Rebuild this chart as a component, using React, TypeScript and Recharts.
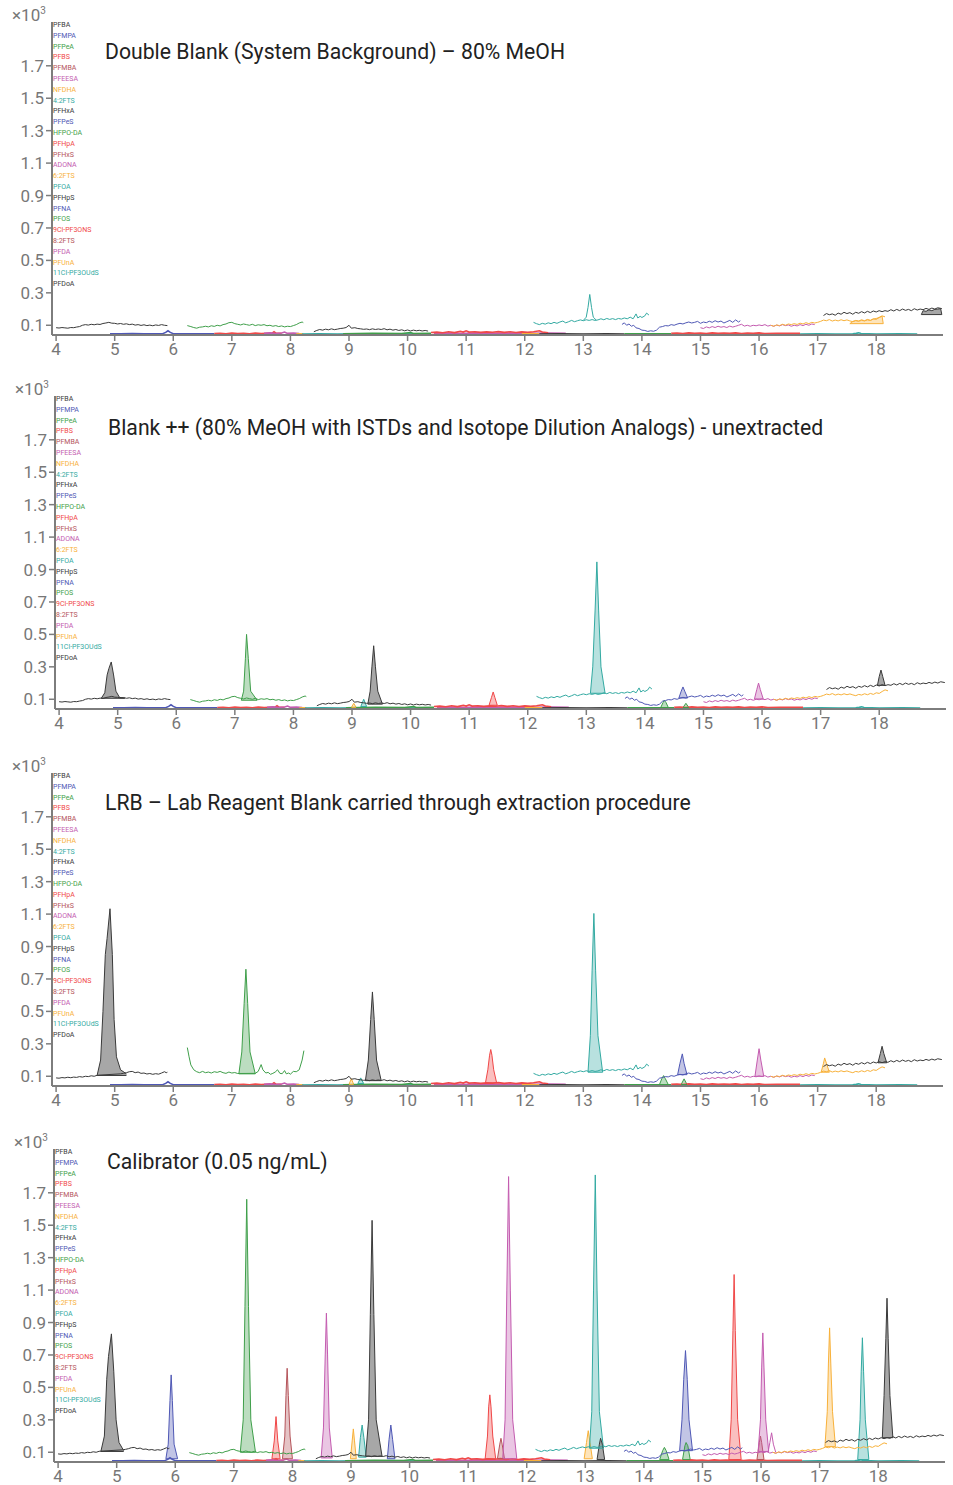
import React from "react";
import { Area, ComposedChart, Line, XAxis, YAxis } from "recharts";

type Pt = [number, number];

const compounds = [
  "PFBA", "PFMPA", "PFPeA", "PFBS", "PFMBA", "PFEESA", "NFDHA", "4:2FTS",
  "PFHxA", "PFPeS", "HFPO-DA", "PFHpA", "PFHxS", "ADONA", "6:2FTS", "PFOA",
  "PFHpS", "PFNA", "PFOS", "9Cl-PF3ONS", "8:2FTS", "PFDA", "PFUnA", "11Cl-PF3OUdS", "PFDoA",
];
const colorCycle = ["k", "b", "g", "r", "br", "m", "o", "t"];
const COLORS: Record<string, string> = {
  k: "#3a3a3a", b: "#4f58b5", g: "#3f9f4a", r: "#f04848",
  br: "#b5545a", m: "#c45cb0", o: "#f8b13a", t: "#33aaa2",
};

const xTicks = [4, 5, 6, 7, 8, 9, 10, 11, 12, 13, 14, 15, 16, 17, 18];
const yTicks = [0.1, 0.3, 0.5, 0.7, 0.9, 1.1, 1.3, 1.5, 1.7];
const titles = [
  "Double Blank (System Background) – 80% MeOH",
  "Blank ++ (80% MeOH with ISTDs and Isotope Dilution Analogs) - unextracted",
  "LRB – Lab Reagent Blank carried through extraction procedure",
  "Calibrator (0.05 ng/mL)",
];

// ---- baseline traces (time min, intensity x10^3) ----
const blackEarly: Pt[] = [[4.0,0.085],[4.05,0.083],[4.1,0.086],[4.15,0.084],[4.2,0.082],[4.25,0.086],[4.3,0.085],[4.35,0.089],[4.4,0.092],[4.45,0.1],[4.5,0.104],[4.55,0.101],[4.6,0.106],[4.65,0.103],[4.7,0.107],[4.75,0.105],[4.8,0.111],[4.85,0.114],[4.9,0.118],[4.95,0.113],[5.0,0.112],[5.05,0.108],[5.1,0.111],[5.15,0.106],[5.2,0.109],[5.25,0.104],[5.3,0.107],[5.35,0.101],[5.4,0.104],[5.45,0.099],[5.5,0.103],[5.55,0.098],[5.6,0.101],[5.65,0.097],[5.7,0.102],[5.75,0.099],[5.8,0.104],[5.85,0.1],[5.9,0.098]];
const blackEarlyB: Pt[] = [[4.0,0.09],[4.05,0.088],[4.1,0.092],[4.15,0.09],[4.2,0.094],[4.25,0.091],[4.3,0.095],[4.35,0.093],[4.4,0.098],[4.45,0.095],[4.5,0.1],[4.55,0.098],[4.6,0.103],[4.65,0.1],[4.7,0.106],[5.1,0.115],[5.15,0.118],[5.2,0.122],[5.25,0.128],[5.3,0.13],[5.35,0.122],[5.4,0.126],[5.45,0.118],[5.5,0.12],[5.55,0.114],[5.6,0.117],[5.65,0.112],[5.7,0.116],[5.75,0.113],[5.8,0.12],[5.85,0.128],[5.88,0.122],[5.9,0.125]];
const greenA: Pt[] = [[6.24,0.098],[6.3,0.092],[6.35,0.086],[6.4,0.082],[6.45,0.088],[6.5,0.09],[6.55,0.094],[6.6,0.09],[6.65,0.097],[6.7,0.093],[6.75,0.1],[6.8,0.096],[6.85,0.104],[6.9,0.108],[6.95,0.116],[7.0,0.118],[7.05,0.11],[7.1,0.106],[7.15,0.102],[7.2,0.108],[7.25,0.104],[7.3,0.1],[7.35,0.106],[7.4,0.098],[7.45,0.103],[7.5,0.1],[7.55,0.104],[7.6,0.097],[7.65,0.1],[7.7,0.094],[7.75,0.098],[7.8,0.092],[7.85,0.096],[7.9,0.09],[7.95,0.094],[8.0,0.092],[8.05,0.098],[8.1,0.104],[8.15,0.114],[8.2,0.12],[8.22,0.116]];
const greenB: Pt[] = [[6.24,0.277],[6.27,0.22],[6.3,0.17],[6.35,0.14],[6.4,0.128],[6.45,0.122],[6.5,0.13],[6.55,0.122],[6.6,0.126],[6.65,0.12],[6.7,0.128],[6.75,0.124],[6.8,0.13],[6.85,0.122],[6.9,0.118],[6.95,0.126],[7.0,0.12],[7.05,0.123],[7.1,0.117],[7.4,0.118],[7.45,0.13],[7.5,0.172],[7.53,0.14],[7.58,0.12],[7.62,0.124],[7.66,0.112],[7.7,0.118],[7.74,0.126],[7.78,0.14],[7.82,0.118],[7.86,0.116],[7.9,0.135],[7.93,0.115],[7.97,0.12],[8.0,0.113],[8.05,0.13],[8.1,0.128],[8.15,0.14],[8.2,0.2],[8.23,0.258]];
const blackMid: Pt[] = [[8.4,0.06],[8.45,0.068],[8.5,0.074],[8.55,0.07],[8.6,0.076],[8.65,0.072],[8.7,0.078],[8.75,0.073],[8.8,0.076],[8.85,0.08],[8.9,0.082],[8.95,0.086],[9.0,0.1],[9.04,0.082],[9.1,0.085],[9.15,0.08],[9.2,0.078],[9.25,0.075],[9.3,0.077],[9.35,0.073],[9.4,0.078],[9.45,0.074],[9.5,0.077],[9.55,0.074],[9.6,0.079],[9.65,0.072],[9.7,0.076],[9.75,0.07],[9.8,0.074],[9.85,0.068],[9.9,0.072],[9.95,0.066],[10.0,0.071],[10.05,0.065],[10.1,0.07],[10.15,0.066],[10.2,0.069],[10.25,0.065],[10.3,0.068],[10.35,0.064]];
const tealMid: Pt[] = [[12.15,0.118],[12.2,0.11],[12.25,0.104],[12.3,0.112],[12.35,0.107],[12.4,0.115],[12.45,0.11],[12.5,0.118],[12.55,0.112],[12.6,0.12],[12.65,0.126],[12.7,0.115],[12.75,0.122],[12.8,0.13],[12.85,0.122],[12.9,0.128],[12.95,0.133],[13.0,0.128],[13.05,0.134],[13.1,0.13],[13.15,0.135],[13.2,0.13],[13.25,0.133],[13.3,0.14],[13.35,0.134],[13.4,0.142],[13.45,0.136],[13.5,0.141],[13.55,0.135],[13.6,0.142],[13.65,0.138],[13.7,0.145],[13.75,0.14],[13.8,0.15],[13.85,0.14],[13.9,0.17],[13.93,0.145],[13.97,0.155],[14.0,0.148],[14.05,0.158],[14.08,0.175],[14.12,0.163]];
const blueMid: Pt[] = [[13.66,0.105],[13.7,0.115],[13.74,0.1],[13.78,0.108],[13.82,0.094],[13.86,0.1],[13.9,0.084],[13.95,0.08],[14.0,0.07],[14.05,0.068],[14.1,0.062],[14.15,0.066],[14.2,0.063],[14.25,0.07],[14.3,0.088],[14.35,0.092],[14.4,0.098],[14.45,0.096],[14.5,0.104],[14.55,0.1],[14.6,0.107],[14.65,0.112],[14.7,0.108],[14.75,0.115],[14.8,0.12],[14.85,0.114],[14.9,0.118],[14.95,0.124],[15.0,0.112],[15.05,0.12],[15.1,0.116],[15.15,0.125],[15.2,0.118],[15.25,0.128],[15.3,0.12],[15.35,0.126],[15.4,0.114],[15.45,0.122],[15.5,0.13],[15.55,0.118],[15.6,0.133],[15.65,0.12],[15.68,0.128]];
const magentaMid: Pt[] = [[15.0,0.085],[15.05,0.08],[15.1,0.09],[15.15,0.084],[15.2,0.092],[15.25,0.086],[15.3,0.094],[15.35,0.088],[15.4,0.092],[15.45,0.086],[15.5,0.095],[15.55,0.089],[15.6,0.094],[15.65,0.1],[15.7,0.106],[15.75,0.095],[15.8,0.1],[15.85,0.094],[15.9,0.1],[15.95,0.097],[16.0,0.102],[16.05,0.098],[16.1,0.104],[16.15,0.095],[16.2,0.1],[16.25,0.094],[16.3,0.101],[16.35,0.096],[16.4,0.104],[16.45,0.098],[16.5,0.102],[16.55,0.094],[16.6,0.1],[16.65,0.096],[16.7,0.104],[16.75,0.098],[16.8,0.106],[16.85,0.1],[16.9,0.108],[16.95,0.104]];
const orangeLate: Pt[] = [[16.2,0.1],[16.25,0.094],[16.3,0.102],[16.35,0.098],[16.4,0.106],[16.45,0.1],[16.5,0.108],[16.55,0.104],[16.6,0.11],[16.65,0.105],[16.7,0.113],[16.75,0.108],[16.8,0.116],[16.85,0.11],[16.9,0.118],[16.95,0.114],[17.0,0.118],[17.05,0.124],[17.1,0.132],[17.15,0.128],[17.2,0.135],[17.25,0.126],[17.3,0.132],[17.35,0.127],[17.4,0.134],[17.45,0.128],[17.5,0.133],[17.55,0.127],[17.6,0.122],[17.65,0.13],[17.7,0.126],[17.75,0.134],[17.8,0.128],[17.85,0.136],[17.9,0.13],[17.95,0.14],[18.0,0.136],[18.05,0.148],[18.1,0.158],[18.15,0.152]];
const blackLate: Pt[] = [[17.1,0.16],[17.15,0.172],[17.2,0.165],[17.25,0.17],[17.3,0.162],[17.35,0.175],[17.4,0.168],[17.45,0.18],[17.5,0.172],[17.55,0.178],[17.6,0.168],[17.65,0.18],[17.7,0.174],[17.75,0.184],[17.8,0.176],[17.85,0.186],[17.9,0.178],[17.95,0.188],[18.0,0.182],[18.05,0.19],[18.1,0.184],[18.15,0.19],[18.2,0.186],[18.25,0.196],[18.3,0.188],[18.35,0.198],[18.4,0.19],[18.45,0.2],[18.5,0.192],[18.55,0.198],[18.6,0.19],[18.65,0.202],[18.7,0.194],[18.75,0.2],[18.8,0.196],[18.85,0.204],[18.9,0.198],[18.95,0.206],[19.0,0.2],[19.05,0.208],[19.12,0.203]];

// ---- traces lying on the floor of the plot ----
const bottomBlue: Pt[] = [[4.92,0.048],[5.1,0.047],[5.3,0.049],[5.5,0.047],[5.7,0.048],[5.82,0.048],[5.87,0.056],[5.91,0.066],[5.95,0.056],[6.0,0.048],[6.2,0.047],[6.4,0.048],[6.7,0.047]];
const bottomRed1: Pt[] = [[6.7,0.049],[6.8,0.051],[6.9,0.048],[7.0,0.052],[7.1,0.049],[7.2,0.051],[7.3,0.048],[7.4,0.052],[7.5,0.049],[7.6,0.05],[7.68,0.05],[7.72,0.06],[7.76,0.05],[7.85,0.05]];
const bottomMag1: Pt[] = [[7.55,0.05],[7.65,0.053],[7.75,0.049],[7.85,0.052],[7.9,0.058],[7.95,0.05],[8.05,0.052],[8.15,0.049]];
const bottomOrange1: Pt[] = [[8.1,0.047],[8.22,0.047]];
const bottomTeal1: Pt[] = [[8.2,0.046],[8.5,0.047],[8.8,0.046],[9.1,0.047],[9.6,0.046],[9.9,0.047],[10.2,0.046],[10.4,0.047]];
const bottomGreen1: Pt[] = [[8.9,0.048],[9.4,0.05],[9.9,0.049],[10.05,0.055],[10.1,0.049],[10.4,0.05]];
const bottomRed2: Pt[] = [[10.4,0.055],[10.5,0.058],[10.6,0.054],[10.7,0.06],[10.8,0.055],[10.9,0.062],[10.95,0.058],[11.0,0.066],[11.05,0.058],[11.15,0.06],[11.25,0.056],[11.35,0.059],[11.45,0.057],[11.55,0.061],[11.65,0.056],[11.75,0.06],[11.85,0.055],[11.95,0.059],[12.05,0.056],[12.15,0.06],[12.25,0.066],[12.3,0.058],[12.4,0.054]];
const bottomMag2: Pt[] = [[10.45,0.05],[10.7,0.052],[10.9,0.049],[11.2,0.053],[11.5,0.05],[11.8,0.052],[12.1,0.05],[12.4,0.052],[12.7,0.05]];
const bottomOrange2: Pt[] = [[11.95,0.047],[12.1,0.048],[12.25,0.047]];
const bottomBlack: Pt[] = [[12.25,0.046],[12.6,0.047],[13.0,0.046],[13.4,0.047],[13.7,0.046]];
const bottomGreen2: Pt[] = [[13.7,0.047],[14.0,0.048],[14.5,0.047]];
const bottomRed3: Pt[] = [[14.5,0.05],[14.6,0.052],[14.7,0.049],[14.8,0.053],[14.9,0.05],[15.0,0.052],[15.1,0.049],[15.2,0.053],[15.3,0.05],[15.4,0.052],[15.5,0.05],[15.6,0.053],[15.7,0.049],[15.8,0.052],[15.9,0.05],[16.0,0.053],[16.1,0.049],[16.3,0.051],[16.5,0.05],[16.7,0.05]];
const bottomTeal2: Pt[] = [[16.7,0.046],[17.0,0.047],[17.3,0.046],[17.6,0.047],[17.66,0.05],[17.7,0.054],[17.74,0.049],[18.0,0.046],[18.4,0.047],[18.7,0.046]];

// ---- panel 1 extras ----
const p1TealPeak: Pt[] = [[13.0,0.13],[13.05,0.15],[13.08,0.21],[13.11,0.29],[13.14,0.21],[13.17,0.15],[13.22,0.132]];
const p1OrangeFill: Pt[] = [[17.55,0.11],[17.6,0.124],[17.65,0.128],[17.7,0.125],[17.75,0.13],[17.8,0.127],[17.85,0.133],[17.9,0.13],[17.95,0.138],[18.0,0.142],[18.05,0.148],[18.1,0.156],[18.12,0.11]];
const p1BlackFill: Pt[] = [[18.77,0.166],[18.8,0.19],[18.85,0.186],[18.9,0.195],[18.95,0.19],[19.0,0.198],[19.05,0.2],[19.1,0.202],[19.12,0.166]];

// ---- panel 2 peaks ----
const p2BlackA: Pt[] = [[4.72,0.106],[4.78,0.14],[4.82,0.25],[4.85,0.29],[4.89,0.33],[4.93,0.25],[4.97,0.15],[5.03,0.112],[5.12,0.106]];
const p2GreenA: Pt[] = [[7.11,0.094],[7.15,0.15],[7.18,0.35],[7.2,0.5],[7.23,0.35],[7.27,0.15],[7.38,0.094]];
const p2OrangeA: Pt[] = [[8.99,0.05],[9.03,0.075],[9.07,0.05]];
const p2TealA: Pt[] = [[9.15,0.055],[9.2,0.1],[9.25,0.055]];
const p2BlackB: Pt[] = [[9.27,0.07],[9.31,0.15],[9.34,0.3],[9.37,0.43],[9.4,0.3],[9.44,0.15],[9.52,0.07]];
const p2RedA: Pt[] = [[11.34,0.063],[11.38,0.11],[11.41,0.145],[11.44,0.11],[11.48,0.063]];
const p2TealB: Pt[] = [[13.07,0.137],[13.11,0.3],[13.15,0.65],[13.18,0.947],[13.21,0.65],[13.25,0.3],[13.32,0.137]];
const p2GreenB: Pt[] = [[14.27,0.049],[14.31,0.08],[14.33,0.094],[14.36,0.08],[14.4,0.049]];
const p2BlueA: Pt[] = [[14.58,0.108],[14.62,0.15],[14.65,0.176],[14.68,0.15],[14.73,0.108]];
const p2GreenC: Pt[] = [[14.65,0.049],[14.7,0.075],[14.75,0.049]];
const p2MagA: Pt[] = [[15.87,0.102],[15.91,0.16],[15.94,0.2],[15.97,0.16],[16.02,0.102]];
const p2BlackC: Pt[] = [[17.97,0.186],[18.0,0.24],[18.03,0.28],[18.06,0.24],[18.1,0.186]];

// ---- panel 3 peaks ----
const p3BlackA: Pt[] = [[4.7,0.105],[4.76,0.2],[4.8,0.5],[4.84,0.85],[4.87,0.95],[4.92,1.133],[4.96,0.85],[4.99,0.45],[5.03,0.22],[5.1,0.14],[5.2,0.115]];
const p3GreenA: Pt[] = [[7.12,0.115],[7.17,0.25],[7.21,0.55],[7.24,0.76],[7.27,0.55],[7.31,0.25],[7.4,0.115]];
const p3OrangeA: Pt[] = [[9.0,0.05],[9.04,0.085],[9.08,0.05]];
const p3TealA: Pt[] = [[9.15,0.055],[9.2,0.09],[9.25,0.055]];
const p3BlackB: Pt[] = [[9.28,0.073],[9.33,0.2],[9.37,0.45],[9.4,0.62],[9.43,0.45],[9.47,0.2],[9.55,0.073]];
const p3RedA: Pt[] = [[11.33,0.06],[11.37,0.14],[11.4,0.23],[11.42,0.265],[11.44,0.23],[11.47,0.14],[11.52,0.06]];
const p3TealB: Pt[] = [[13.08,0.125],[13.12,0.35],[13.15,0.75],[13.18,1.104],[13.21,0.75],[13.25,0.35],[13.33,0.125]];
const p3GreenB: Pt[] = [[14.3,0.049],[14.34,0.085],[14.37,0.104],[14.4,0.085],[14.45,0.049]];
const p3BlueA: Pt[] = [[14.61,0.11],[14.65,0.18],[14.69,0.238],[14.72,0.18],[14.77,0.11]];
const p3GreenC: Pt[] = [[14.67,0.049],[14.72,0.084],[14.77,0.049]];
const p3MagA: Pt[] = [[15.93,0.1],[15.97,0.2],[16.0,0.27],[16.03,0.2],[16.08,0.1]];
const p3OrangeB: Pt[] = [[17.06,0.125],[17.1,0.18],[17.12,0.213],[17.15,0.18],[17.2,0.125]];
const p3BlackC: Pt[] = [[18.03,0.183],[18.07,0.24],[18.1,0.285],[18.13,0.24],[18.18,0.183]];

// ---- panel 4 peaks ----
const p4BlackA: Pt[] = [[4.73,0.105],[4.79,0.2],[4.83,0.55],[4.86,0.69],[4.91,0.83],[4.95,0.6],[4.99,0.3],[5.04,0.16],[5.12,0.11]];
const p4BlueA: Pt[] = [[5.84,0.06],[5.88,0.15],[5.91,0.42],[5.93,0.577],[5.95,0.42],[5.98,0.15],[6.04,0.06]];
const p4GreenA: Pt[] = [[7.11,0.1],[7.16,0.3],[7.19,1.0],[7.22,1.66],[7.25,1.0],[7.29,0.3],[7.37,0.1]];
const p4RedA: Pt[] = [[7.65,0.06],[7.69,0.17],[7.72,0.32],[7.75,0.17],[7.79,0.06]];
const p4BrownA: Pt[] = [[7.83,0.06],[7.87,0.2],[7.89,0.45],[7.91,0.618],[7.93,0.45],[7.96,0.2],[8.0,0.06]];
const p4MagA: Pt[] = [[8.49,0.065],[8.53,0.25],[8.56,0.7],[8.58,0.958],[8.6,0.7],[8.63,0.25],[8.68,0.065]];
const p4OrangeA: Pt[] = [[8.99,0.06],[9.02,0.17],[9.04,0.244],[9.06,0.17],[9.09,0.06]];
const p4TealA: Pt[] = [[9.13,0.07],[9.16,0.19],[9.19,0.268],[9.22,0.19],[9.26,0.07]];
const p4BlackB: Pt[] = [[9.25,0.075],[9.3,0.3],[9.33,0.95],[9.36,1.53],[9.39,0.95],[9.43,0.3],[9.53,0.075]];
const p4BlueB: Pt[] = [[9.62,0.06],[9.65,0.18],[9.68,0.268],[9.71,0.18],[9.75,0.06]];
const p4RedB: Pt[] = [[11.29,0.06],[11.33,0.2],[11.35,0.38],[11.37,0.454],[11.39,0.38],[11.42,0.2],[11.47,0.06]];
const p4BrownB: Pt[] = [[11.5,0.06],[11.54,0.15],[11.56,0.186],[11.58,0.15],[11.62,0.06]];
const p4MagB: Pt[] = [[11.59,0.06],[11.63,0.3],[11.66,1.1],[11.69,1.8],[11.72,1.1],[11.76,0.3],[11.83,0.06]];
const p4OrangeB: Pt[] = [[12.98,0.06],[13.02,0.16],[13.05,0.233],[13.08,0.16],[13.12,0.06]];
const p4TealB: Pt[] = [[13.07,0.125],[13.11,0.35],[13.14,1.1],[13.17,1.81],[13.2,1.1],[13.24,0.35],[13.31,0.125]];
const p4BlackC: Pt[] = [[13.2,0.055],[13.24,0.15],[13.26,0.186],[13.29,0.15],[13.33,0.055]];
const p4GreenB: Pt[] = [[14.27,0.055],[14.32,0.11],[14.35,0.13],[14.38,0.11],[14.43,0.055]];
const p4BlueC: Pt[] = [[14.61,0.11],[14.65,0.3],[14.68,0.55],[14.71,0.727],[14.74,0.55],[14.77,0.3],[14.83,0.11]];
const p4GreenC: Pt[] = [[14.66,0.055],[14.7,0.14],[14.72,0.16],[14.75,0.14],[14.79,0.055]];
const p4RedC: Pt[] = [[15.45,0.055],[15.49,0.3],[15.52,0.85],[15.54,1.196],[15.56,0.85],[15.6,0.3],[15.66,0.055]];
const p4BrownC: Pt[] = [[15.93,0.055],[15.97,0.16],[15.99,0.2],[16.01,0.16],[16.05,0.055]];
const p4MagC: Pt[] = [[15.95,0.105],[15.99,0.3],[16.01,0.62],[16.03,0.836],[16.05,0.62],[16.08,0.3],[16.13,0.105]];
const p4MagBump: Pt[] = [[16.12,0.1],[16.15,0.16],[16.18,0.22],[16.21,0.15],[16.25,0.1]];
const p4OrangeC: Pt[] = [[17.09,0.135],[17.13,0.35],[17.15,0.65],[17.17,0.867],[17.19,0.65],[17.22,0.35],[17.27,0.135]];
const p4TealC: Pt[] = [[17.65,0.055],[17.69,0.3],[17.71,0.6],[17.73,0.806],[17.75,0.6],[17.78,0.3],[17.84,0.055]];
const p4BlackD: Pt[] = [[18.07,0.19],[18.1,0.45],[18.13,0.8],[18.15,1.05],[18.17,0.8],[18.2,0.45],[18.25,0.19]];

type Series = [string, Pt[]];

const floorLines: Series[] = [
  ["b", bottomBlue], ["r", bottomRed1], ["m", bottomMag1], ["o", bottomOrange1],
  ["t", bottomTeal1], ["g", bottomGreen1], ["m", bottomMag2], ["r", bottomRed2],
  ["o", bottomOrange2], ["k", bottomBlack], ["g", bottomGreen2], ["r", bottomRed3], ["t", bottomTeal2],
];
const upperLate: Series[] = [
  ["t", tealMid], ["b", blueMid], ["m", magentaMid], ["o", orangeLate], ["k", blackLate],
];

const panels = [
  {
    top: 0, shift: 0, titleY: 52,
    lines: [["k", blackEarly], ["g", greenA], ["k", blackMid], ...upperLate, ["t", p1TealPeak]] as Series[],
    peaks: [["o", p1OrangeFill], ["k", p1BlackFill]] as Series[],
  },
  {
    top: 374, shift: 3, titleY: 54,
    lines: [["k", blackEarly], ["g", greenA], ["k", blackMid], ...upperLate] as Series[],
    peaks: [["k", p2BlackA], ["g", p2GreenA], ["o", p2OrangeA], ["t", p2TealA], ["k", p2BlackB], ["r", p2RedA],
      ["t", p2TealB], ["g", p2GreenB], ["b", p2BlueA], ["g", p2GreenC], ["m", p2MagA], ["k", p2BlackC]] as Series[],
  },
  {
    top: 751, shift: 0, titleY: 52,
    lines: [["k", blackEarlyB], ["g", greenB], ["k", blackMid], ...upperLate] as Series[],
    peaks: [["k", p3BlackA], ["g", p3GreenA], ["o", p3OrangeA], ["t", p3TealA], ["k", p3BlackB], ["r", p3RedA],
      ["t", p3TealB], ["g", p3GreenB], ["b", p3BlueA], ["g", p3GreenC], ["m", p3MagA], ["o", p3OrangeB], ["k", p3BlackC]] as Series[],
  },
  {
    top: 1127, shift: 2, titleY: 35,
    lines: [["k", blackEarlyB], ["g", greenA], ["k", blackMid], ...upperLate, ["m", p4MagBump]] as Series[],
    peaks: [["k", p4BlackA], ["b", p4BlueA], ["g", p4GreenA], ["r", p4RedA], ["br", p4BrownA], ["m", p4MagA],
      ["o", p4OrangeA], ["t", p4TealA], ["k", p4BlackB], ["b", p4BlueB], ["r", p4RedB], ["br", p4BrownB], ["m", p4MagB],
      ["o", p4OrangeB], ["t", p4TealB], ["k", p4BlackC], ["g", p4GreenB], ["b", p4BlueC], ["g", p4GreenC], ["r", p4RedC],
      ["br", p4BrownC], ["m", p4MagC], ["o", p4OrangeC], ["t", p4TealC], ["k", p4BlackD]] as Series[],
  },
];

const rows = (pts: Pt[]) => pts.map(([t, y]) => ({ t, y }));
const AXIS = "#7d7d7d";

function Panel({ idx }: { idx: number }) {
  const cfg = panels[idx];
  return (
    <div style={{ position: "absolute", left: cfg.shift, top: cfg.top, width: 953, height: 375 }}>
      <ComposedChart width={953} height={375} margin={{ top: 22, right: 10, bottom: 0, left: 0 }}>
        <XAxis
          type="number" dataKey="t" domain={[3.93, 19.14]} ticks={xTicks} allowDataOverflow height={40}
          axisLine={{ stroke: AXIS, strokeWidth: 2 }} tickLine={{ stroke: AXIS, strokeWidth: 1.5 }} tickSize={6}
          tick={{ fontSize: 17, fill: "#777", fontFamily: "Roboto" }}
        />
        <YAxis
          type="number" domain={[0.04, 1.97]} ticks={yTicks} allowDataOverflow width={52}
          axisLine={{ stroke: AXIS, strokeWidth: 2 }} tickLine={{ stroke: AXIS, strokeWidth: 1.5 }} tickSize={6}
          tick={{ fontSize: 17, fill: "#777", fontFamily: "Roboto" }} tickFormatter={(v: number) => v.toFixed(1)}
        />
        {floorLines.map(([c, pts], i) => (
          <Line key={"f" + i} data={rows(pts)} dataKey="y" type="linear" stroke={COLORS[c]} strokeWidth={1.6}
            dot={false} activeDot={false} isAnimationActive={false} />
        ))}
        {cfg.lines.map(([c, pts], i) => (
          <Line key={"l" + i} data={rows(pts)} dataKey="y" type="linear" stroke={COLORS[c]} strokeWidth={1}
            dot={false} activeDot={false} isAnimationActive={false} />
        ))}
        {cfg.peaks.map(([c, pts], i) => (
          <Area key={"a" + i} data={rows(pts)} dataKey="y" type="linear" baseValue={pts[0][1]}
            stroke={COLORS[c]} strokeWidth={1} fill={c === "k" ? "#8a8a8a" : COLORS[c]}
            fillOpacity={c === "k" ? 0.75 : 0.35} dot={false} activeDot={false} isAnimationActive={false} />
        ))}
        {cfg.peaks.map(([c, pts], i) => (
          <Line key={"b" + i} data={rows([[pts[0][0], pts[0][1]], [pts[pts.length - 1][0], pts[0][1]]])} dataKey="y"
            stroke={COLORS[c]} strokeWidth={1} dot={false} activeDot={false} isAnimationActive={false} />
        ))}
      </ComposedChart>
      <div style={{ position: "absolute", left: 12, top: 5, fontSize: 17, color: "#777", whiteSpace: "nowrap" }}>
        ×10<span style={{ fontSize: 10, position: "relative", top: -7 }}>3</span>
      </div>
      <div style={{ position: "absolute", left: 53, top: 20, fontSize: 7, lineHeight: "10.79px", whiteSpace: "nowrap" }}>
        {compounds.map((n, i) => (
          <div key={n} style={{ color: COLORS[colorCycle[i % 8]] }}>{n}</div>
        ))}
      </div>
      <div style={{ position: "absolute", left: 105, top: cfg.titleY - 13, fontSize: 21.2, lineHeight: "26px", color: "#222", whiteSpace: "nowrap" }}>
        {titles[idx]}
      </div>
    </div>
  );
}

export default function App() {
  return (
    <div style={{ position: "absolute", left: 0, top: 0, width: 953, height: 1485, overflow: "hidden", background: "#fff", fontFamily: "Roboto" }}>
      {panels.map((_, i) => <Panel key={i} idx={i} />)}
    </div>
  );
}
